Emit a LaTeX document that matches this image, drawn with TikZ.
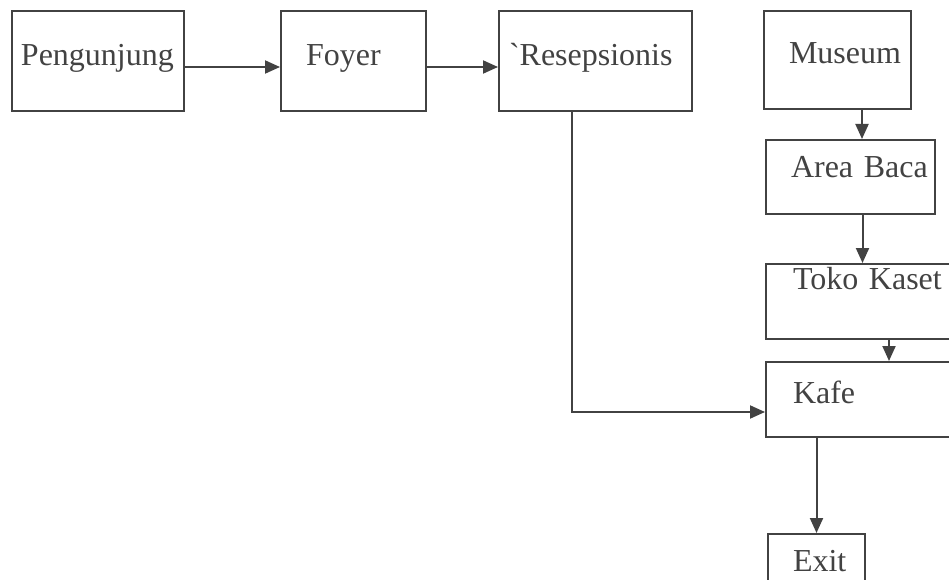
\documentclass[tikz,border=0pt]{standalone}
\usepackage{fontspec}
\setmainfont{Liberation Serif}
\newfontfamily\graveserif{Liberation Serif}
\usetikzlibrary{arrows.meta}
\definecolor{ink}{HTML}{424242}

\begin{document}
\begin{tikzpicture}[x=1pt, y=-1pt, >={Triangle[length=15pt,width=13pt]},
  font=\fontsize{32}{36}\selectfont, text=ink,
  box/.style={draw=ink, line width=2pt, anchor=north west, inner sep=0pt, align=left},
  flow/.style={->, draw=ink, line width=2pt}]
\useasboundingbox (0,0) rectangle (949,580);
\node[box, text width=172pt, text height=55pt, text depth=45pt] (peng)   at (11,10)  {\hspace*{9pt}Pengunjung};
\node[box, text width=145pt, text height=55pt, text depth=45pt] (foyer)  at (280,10) {\hspace*{25pt}Foyer};
\node[box, text width=193pt, text height=55pt, text depth=45pt] (resep)  at (498,10) {\hspace*{10pt}{\graveserif`}Resepsionis};
\node[box, text width=147pt, text height=53pt, text depth=45pt] (museum) at (763,10) {\hspace*{25pt}Museum};
\node[box, text width=169pt, text height=38pt, text depth=36pt] (baca)   at (765,139){\hspace*{25pt}Area Baca};
\node[box, text width=200pt, text height=25pt, text depth=50pt] (toko)   at (765,263){\hspace*{27pt}Toko Kaset};
\node[box, text width=200pt, text height=41pt, text depth=34pt] (kafe)   at (765,361){\hspace*{27pt}Kafe};
\node[box, text width=97pt,  text height=37pt, text depth=30pt] (exit)   at (767,533){\hspace*{25pt}Exit};
\draw[flow] ([yshift=-6pt]peng.east) -- ([yshift=-6pt]foyer.west);
\draw[flow] ([yshift=-6pt]foyer.east) -- ([yshift=-6pt]resep.west);
\draw[flow] ([xshift=24.5pt]museum.south) -- ([xshift=24.5pt]museum.south |- baca.north);
\draw[flow] ([xshift=12pt]baca.south) -- ([xshift=12pt]baca.south |- toko.north);
\draw[flow] ([xshift=23pt]toko.south) -- ([xshift=23pt]toko.south |- kafe.north);
\draw[flow] ([xshift=-23.5pt]resep.south) |- ([yshift=-12.5pt]kafe.west);
\draw[flow] (exit.north |- kafe.south) -- (exit.north);
\end{tikzpicture}
\end{document}
